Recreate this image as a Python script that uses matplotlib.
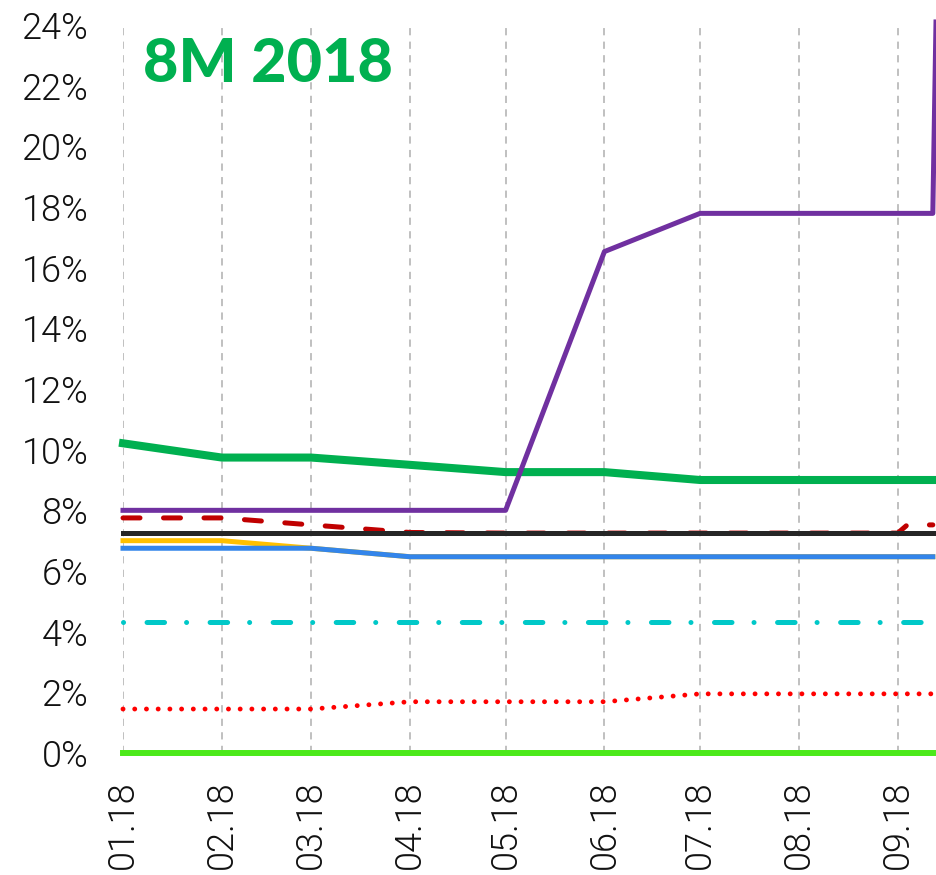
import pandas as pd
import numpy as np
import matplotlib
matplotlib.use("Agg")
import matplotlib.pyplot as plt
import matplotlib.dates as mdates
from matplotlib.font_manager import FontProperties
from matplotlib.ticker import FuncFormatter

# -------------------------
# 1. data
# -------------------------
dates = ["2018-01-01", "2018-02-01", "2018-03-01", "2018-04-01", "2018-05-01",
         "2018-06-01", "2018-07-01", "2018-08-01", "2018-09-01", "2018-09-12"]

green_vals = [10.21, 9.74, 9.74, 9.50, 9.26, 9.26, 9.00, 9.00, 9.00, 9.00]
black_vals = [7.24, 7.24, 7.24, 7.24, 7.24, 7.24, 7.24, 7.24, 7.24, 7.24]
yellow_vals = [7.00, 7.00, 6.75, 6.47, 6.47, 6.47, 6.47, 6.47, 6.47, 6.47]
blue_vals = [6.75, 6.75, 6.75, 6.47, 6.47, 6.47, 6.47, 6.47, 6.47, 6.47]
cyan_vals = [4.32, 4.32, 4.32, 4.32, 4.32, 4.32, 4.32, 4.32, 4.32, 4.32]
dotted_vals = [1.45, 1.45, 1.45, 1.69, 1.69, 1.69, 1.95, 1.95, 1.95, 1.95]
lime_vals = [0, 0, 0, 0, 0, 0, 0, 0, 0, 0]

# purple has one extra point (jump at the very end)
purple_dates = dates + ["2018-09-13"]
purple_vals = [8.00, 8.00, 8.00, 8.00, 8.00, 16.53, 17.79, 17.79, 17.79, 17.79, 24.1]

# red dashed goes up right after 09.18
reddash_dates = dates[:9] + ["2018-09-04", "2018-09-12"]
reddash_vals = [7.75, 7.75, 7.52, 7.27, 7.25, 7.25, 7.25, 7.25, 7.25, 7.52, 7.52]

tick_dates = dates[:9]
y_ticks = list(range(0, 25, 2))
title = "8M 2018"

# -------------------------
# 2. figure
# -------------------------
W, H = 936, 875
fig = plt.figure(figsize=(W / 100, H / 100), dpi=100)
ax = fig.add_axes([123 / W, (H - 753) / H, (936 - 123) / W, (753 - 25) / H])

d = pd.to_datetime(dates)
lw = 3.6

ax.plot(d, yellow_vals, color="#FFC000", lw=lw, zorder=3, clip_on=False)
ax.plot(d, blue_vals, color="#3385EA", lw=lw, zorder=4, clip_on=False)
ax.plot(pd.to_datetime(reddash_dates), reddash_vals, color="#C00000", lw=lw,
        dashes=(3.4, 4.7), dash_capstyle="round", zorder=4, clip_on=False)
ax.plot(d, black_vals, color="#262626", lw=lw, zorder=5, clip_on=False)
ax.plot(d, green_vals, color="#00B050", lw=5.8, zorder=6, clip_on=False)
ax.plot(pd.to_datetime(purple_dates), purple_vals, color="#7030A0", lw=lw,
        zorder=7, clip_on=False)
ax.plot(d, cyan_vals, color="#00C8C8", lw=lw, dashes=(0.01, 4.7, 3.5, 4.4),
        dash_capstyle="round", zorder=4, clip_on=False)
ax.plot(d, dotted_vals, color="#FF0000", lw=3.5, dashes=(0.01, 2.4),
        dash_capstyle="round", zorder=4, clip_on=False)
ax.plot(d, lime_vals, color="#4CE91A", lw=4.3, zorder=4, clip_on=False)

# -------------------------
# 3. axes style
# -------------------------
ax.set_xlim(pd.Timestamp("2018-01-01"), pd.Timestamp("2018-09-13"))
ax.set_ylim(0, 24)

ax.set_xticks(pd.to_datetime(tick_dates))
ax.xaxis.set_major_formatter(mdates.DateFormatter("%m.%y"))
ax.set_yticks(y_ticks)
ax.yaxis.set_major_formatter(FuncFormatter(lambda v, p: f"{int(v)}%"))

tick_font = FontProperties(family=["Roboto", "DejaVu Sans"], weight=300, size=26)
for lab in ax.get_xticklabels():
    lab.set_fontproperties(tick_font)
    lab.set_rotation(90)
for lab in ax.get_yticklabels():
    lab.set_fontproperties(tick_font)

ax.tick_params(axis="both", length=0, labelcolor="#111111")
ax.tick_params(axis="y", pad=25)
ax.tick_params(axis="x", pad=20)

ax.grid(axis="x", color="#BBBBBB", lw=1.3, linestyle=(0, (4, 3.5)), zorder=0)
ax.set_axisbelow(True)
for s in ax.spines.values():
    s.set_visible(False)

ax.text(0.025, 0.985, title, transform=ax.transAxes,
        fontsize=44, fontweight="black", family=["Lato", "DejaVu Sans"],
        color="#00B050", ha="left", va="top")

fig.savefig("out.png", dpi=100)
